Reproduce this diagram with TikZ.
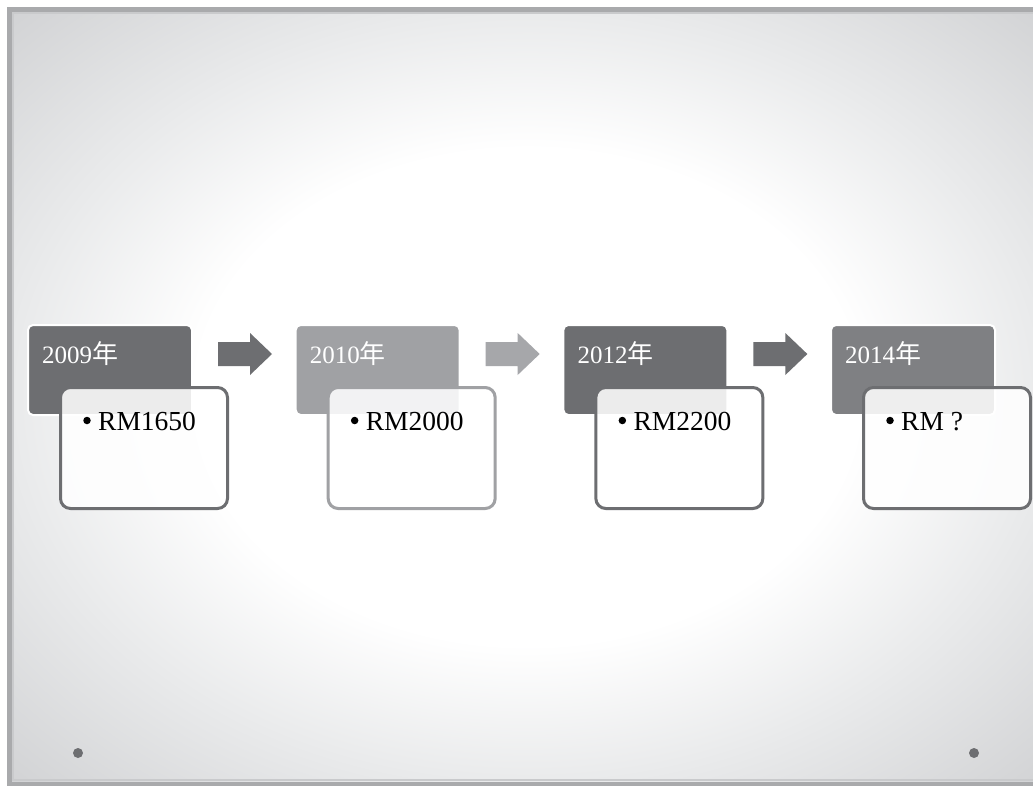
\documentclass[tikz,border=0pt]{standalone}
\usepackage{fontspec}
\setmainfont{Liberation Serif}
\newfontfamily\cjk{Noto Sans CJK SC}
\definecolor{cdark}{HTML}{6D6E71}
\definecolor{clight}{HTML}{A0A1A4}
\definecolor{cmid}{HTML}{7F8083}
\definecolor{carrowl}{HTML}{A6A7AA}
\definecolor{framegray}{HTML}{A9AAAC}
\definecolor{frameinner}{HTML}{C9CACC}
\definecolor{bgmid}{HTML}{E9EAEB}
\definecolor{bgout}{HTML}{D0D1D3}
\pgfdeclareradialshading{bgshade}{\pgfpoint{0bp}{0bp}}{color(0bp)=(white); color(16bp)=(white); color(25bp)=(bgmid); color(36bp)=(bgout); color(50bp)=(bgout)}
\tikzset{
  hdr/.style={rectangle, rounded corners=5pt, draw=white, line width=2pt, minimum width=164pt, minimum height=90pt, inner sep=0pt},
  tbox/.style={rectangle, rounded corners=10pt, line width=3pt, fill=white, fill opacity=0.87, minimum width=167pt, minimum height=121pt, inner sep=0pt},
  hdrtext/.style={anchor=base west, text=white, font=\fontsize{25}{28}\selectfont, inner sep=0pt},
  bodytext/.style={anchor=base west, text=black, font=\fontsize{27.5}{32}\selectfont, inner sep=0pt},
  bulletdot/.style={circle, fill=black, minimum size=7.5pt, inner sep=0pt},
  blockarrow/.style={fill=#1, draw=none},
  corner dot/.style={circle, fill=cdark, minimum size=10pt, inner sep=0pt}
}
\begin{document}
\begin{tikzpicture}[x=1pt,y=-1pt]
\useasboundingbox (0,0) rectangle (1033,785);
\fill[white] (0,0) rectangle (1033,785);
\shade[shading=bgshade] (9.8,9.8) rectangle (1045,784);
\draw[frameinner, line width=1.5pt] (13,13) rectangle (1045,780);
\draw[framegray, line width=5pt] (9.8,9.8) rectangle (1045,784);
% year boxes
\foreach \i/\yr/\val/\hc/\bc in {0/2009/RM1650/cdark/cdark, 1/2010/RM2000/clight/clight, 2/2012/RM2200/cdark/cdark, 3/2014/RM ?/cmid/cdark}{
  \pgfmathsetmacro{\hx}{28+267.67*\i}
  \pgfmathsetmacro{\bx}{59+267.67*\i}
  \node[hdr, fill=\hc] (h\i) at (\hx+82,370) {};
  \node[hdrtext] (ht\i) at (\hx+14,363) {\yr{\cjk\fontsize{26}{28}\selectfont 年}};
  \node[tbox, draw=\bc] (b\i) at (\bx+85,448) {};
  \node[bulletdot] (bd\i) at (\bx+28,420.5) {};
  \node[bodytext] (bt\i) at (\bx+39,430) {\val};
}
% arrows
\foreach \i/\ac in {0/cdark, 1/carrowl, 2/cdark}{
  \coordinate (a\i) at (218+267.67*\i,354);
  \fill[blockarrow=\ac] (a\i) ++(0,-12) -- ++(32,0) -- ++(0,-9) -- ++(22,21) -- ++(-22,21) -- ++(0,-9) -- ++(-32,0) -- cycle;
}
% corner dots
\node[corner dot] (d1) at (78,753) {};
\node[corner dot] (d2) at (974,753) {};
\end{tikzpicture}
\end{document}
